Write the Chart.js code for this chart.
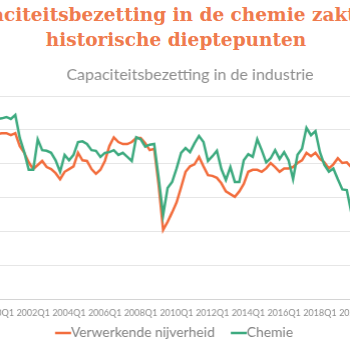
<!DOCTYPE html>
<html>
<head>
<meta charset="utf-8">
<script src="https://cdn.jsdelivr.net/npm/chart.js@4.4.1/dist/chart.umd.min.js"></script>
<style>
  html, body { margin: 0; padding: 0; background: #fff; }
  body { width: 350px; height: 350px; overflow: hidden; position: relative; }
  #kop {
    position: absolute; left: -124px; top: 2px; width: 600px; margin: 0;
    text-align: center; white-space: nowrap;
    font-family: "DejaVu Serif", serif; font-weight: bold;
    font-size: 18.5px; line-height: 25px; color: #EF7B4E;
  }
  #kop span { display: block; position: relative; }
  #kop .r1 { left: -4px; }
  #wrap { position: absolute; left: -50px; top: 0; width: 441.6px; height: 350px; }
</style>
</head>
<body>
<h1 id="kop"><span class="r1">Capaciteitsbezetting in de chemie zakt tot</span><span class="r2">historische dieptepunten</span></h1>
<div id="wrap"><canvas id="grafiek"></canvas></div>
<script>
// kwartalen 2000Q1 .. 2021Q3
var kwartalen = [];
for (var jaar = 2000; jaar <= 2021; jaar++) {
    for (var q = 1; q <= 4; q++) {
        if (jaar === 2021 && q > 3) break;
        kwartalen.push(jaar + 'Q' + q);
    }
}

// capaciteitsbezetting in %
var verwerkend = [
    84.4, 84.5, 84.5, 84.2, 84.5, 82.6, 81.6, 80.2, 79.2, 79.8,
    80.4, 79.5, 79.2, 78.6, 77.7, 78.8, 79.2, 79.6, 81.6, 80.5,
    80.4, 79.2, 78.5, 79.1, 80.4, 82.6, 83.9, 83.2, 82.9, 82.9,
    83.2, 83.8, 83.8, 83.0, 82.0, 82.2, 76.8, 70.2, 71.4, 72.8,
    74.3, 76.5, 78.8, 79.6, 79.9, 81.0, 79.6, 78.3, 78.2, 77.9,
    77.1, 75.9, 75.5, 75.1, 75.9, 77.0, 78.8, 79.1, 79.1, 78.8,
    79.3, 80.1, 79.5, 78.8, 79.3, 79.3, 79.5, 80.1, 80.5, 81.6,
    81.1, 81.6, 80.7, 80.2, 79.3, 79.9, 80.8, 80.1, 80.2, 79.5
];
var chemie = [
    86.6, 86.7, 86.9, 86.6, 87.2, 83.8, 81.7, 79.1, 79.1, 83.6,
    82.0, 81.9, 81.6, 80.5, 78.8, 81.3, 80.5, 81.3, 83.2, 83.3,
    82.9, 82.0, 81.9, 81.0, 81.6, 81.7, 82.0, 81.3, 81.6, 81.0,
    80.4, 83.9, 83.6, 82.5, 82.8, 82.9, 77.9, 72.4, 76.4, 77.3,
    79.3, 81.6, 82.3, 81.7, 83.0, 84.1, 83.2, 80.4, 81.1, 81.9,
    79.2, 77.6, 79.5, 77.3, 77.3, 80.5, 81.4, 81.0, 83.6, 82.0,
    80.2, 80.8, 82.0, 80.7, 81.7, 80.5, 77.7, 81.3, 82.2, 85.3,
    84.2, 84.8, 81.7, 79.8, 78.8, 79.3, 77.7, 76.2, 76.1, 72.8
];

var oranje = '#F26D3D';
var groen = '#3DAA7F';
var grijs = '#8C8C8C';

var ctx = document.getElementById('grafiek').getContext('2d');
var chart = new Chart(ctx, {
    type: 'line',
    data: {
        labels: kwartalen,
        datasets: [{
            label: 'Verwerkende nijverheid',
            data: verwerkend,
            borderColor: oranje,
            backgroundColor: oranje,
            borderWidth: 2.5,
            pointRadius: 0,
            tension: 0,
            order: 1
        }, {
            label: 'Chemie',
            data: chemie,
            borderColor: groen,
            backgroundColor: groen,
            borderWidth: 2.5,
            pointRadius: 0,
            tension: 0,
            order: 0
        }]
    },
    options: {
        responsive: true,
        maintainAspectRatio: false,
        animation: false,
        layout: { padding: { left: 22.4, right: 10, top: 0, bottom: 0.1 } },
        plugins: {
            title: {
                display: true,
                text: 'Capaciteitsbezetting in de industrie',
                fullSize: false,
                color: grijs,
                font: { family: 'Lato', size: 16, weight: 'normal' },
                padding: { top: 65.4, bottom: 11.4 }
            },
            legend: {
                position: 'bottom',
                align: 'center',
                labels: {
                    usePointStyle: true,
                    pointStyle: 'line',
                    boxWidth: 2,
                    boxHeight: 11.3,
                    padding: 23,
                    color: '#7F7F7F',
                    font: { family: 'Lato', size: 13.8 },
                    sort: function (a, b) { return a.datasetIndex - b.datasetIndex; }
                }
            },
            tooltip: { enabled: false }
        },
        scales: {
            x: {
                grid: { display: false, drawTicks: false },
                border: { color: '#D4D4D4' },
                // labels onder de as zonder dat ze de legenda omlaag duwen
                afterFit: function (scale) { scale.height = 4.1; },
                ticks: {
                    autoSkip: false,
                    maxRotation: 0,
                    minRotation: 0,
                    mirror: true,
                    padding: -19.1,
                    color: grijs,
                    font: { family: 'Lato', size: 9 },
                    callback: function (value, index) {
                        return index % 8 === 0 ? this.getLabelForValue(value) : null;
                    }
                }
            },
            y: {
                min: 60,
                max: 90,
                grid: { color: '#E6E6E6', drawTicks: false },
                border: { display: false },
                afterFit: function (scale) { scale.width = 24.9; },
                ticks: {
                    stepSize: 5,
                    color: grijs,
                    font: { family: 'Lato', size: 9 }
                }
            }
        }
    }
});
</script>
</body>
</html>
